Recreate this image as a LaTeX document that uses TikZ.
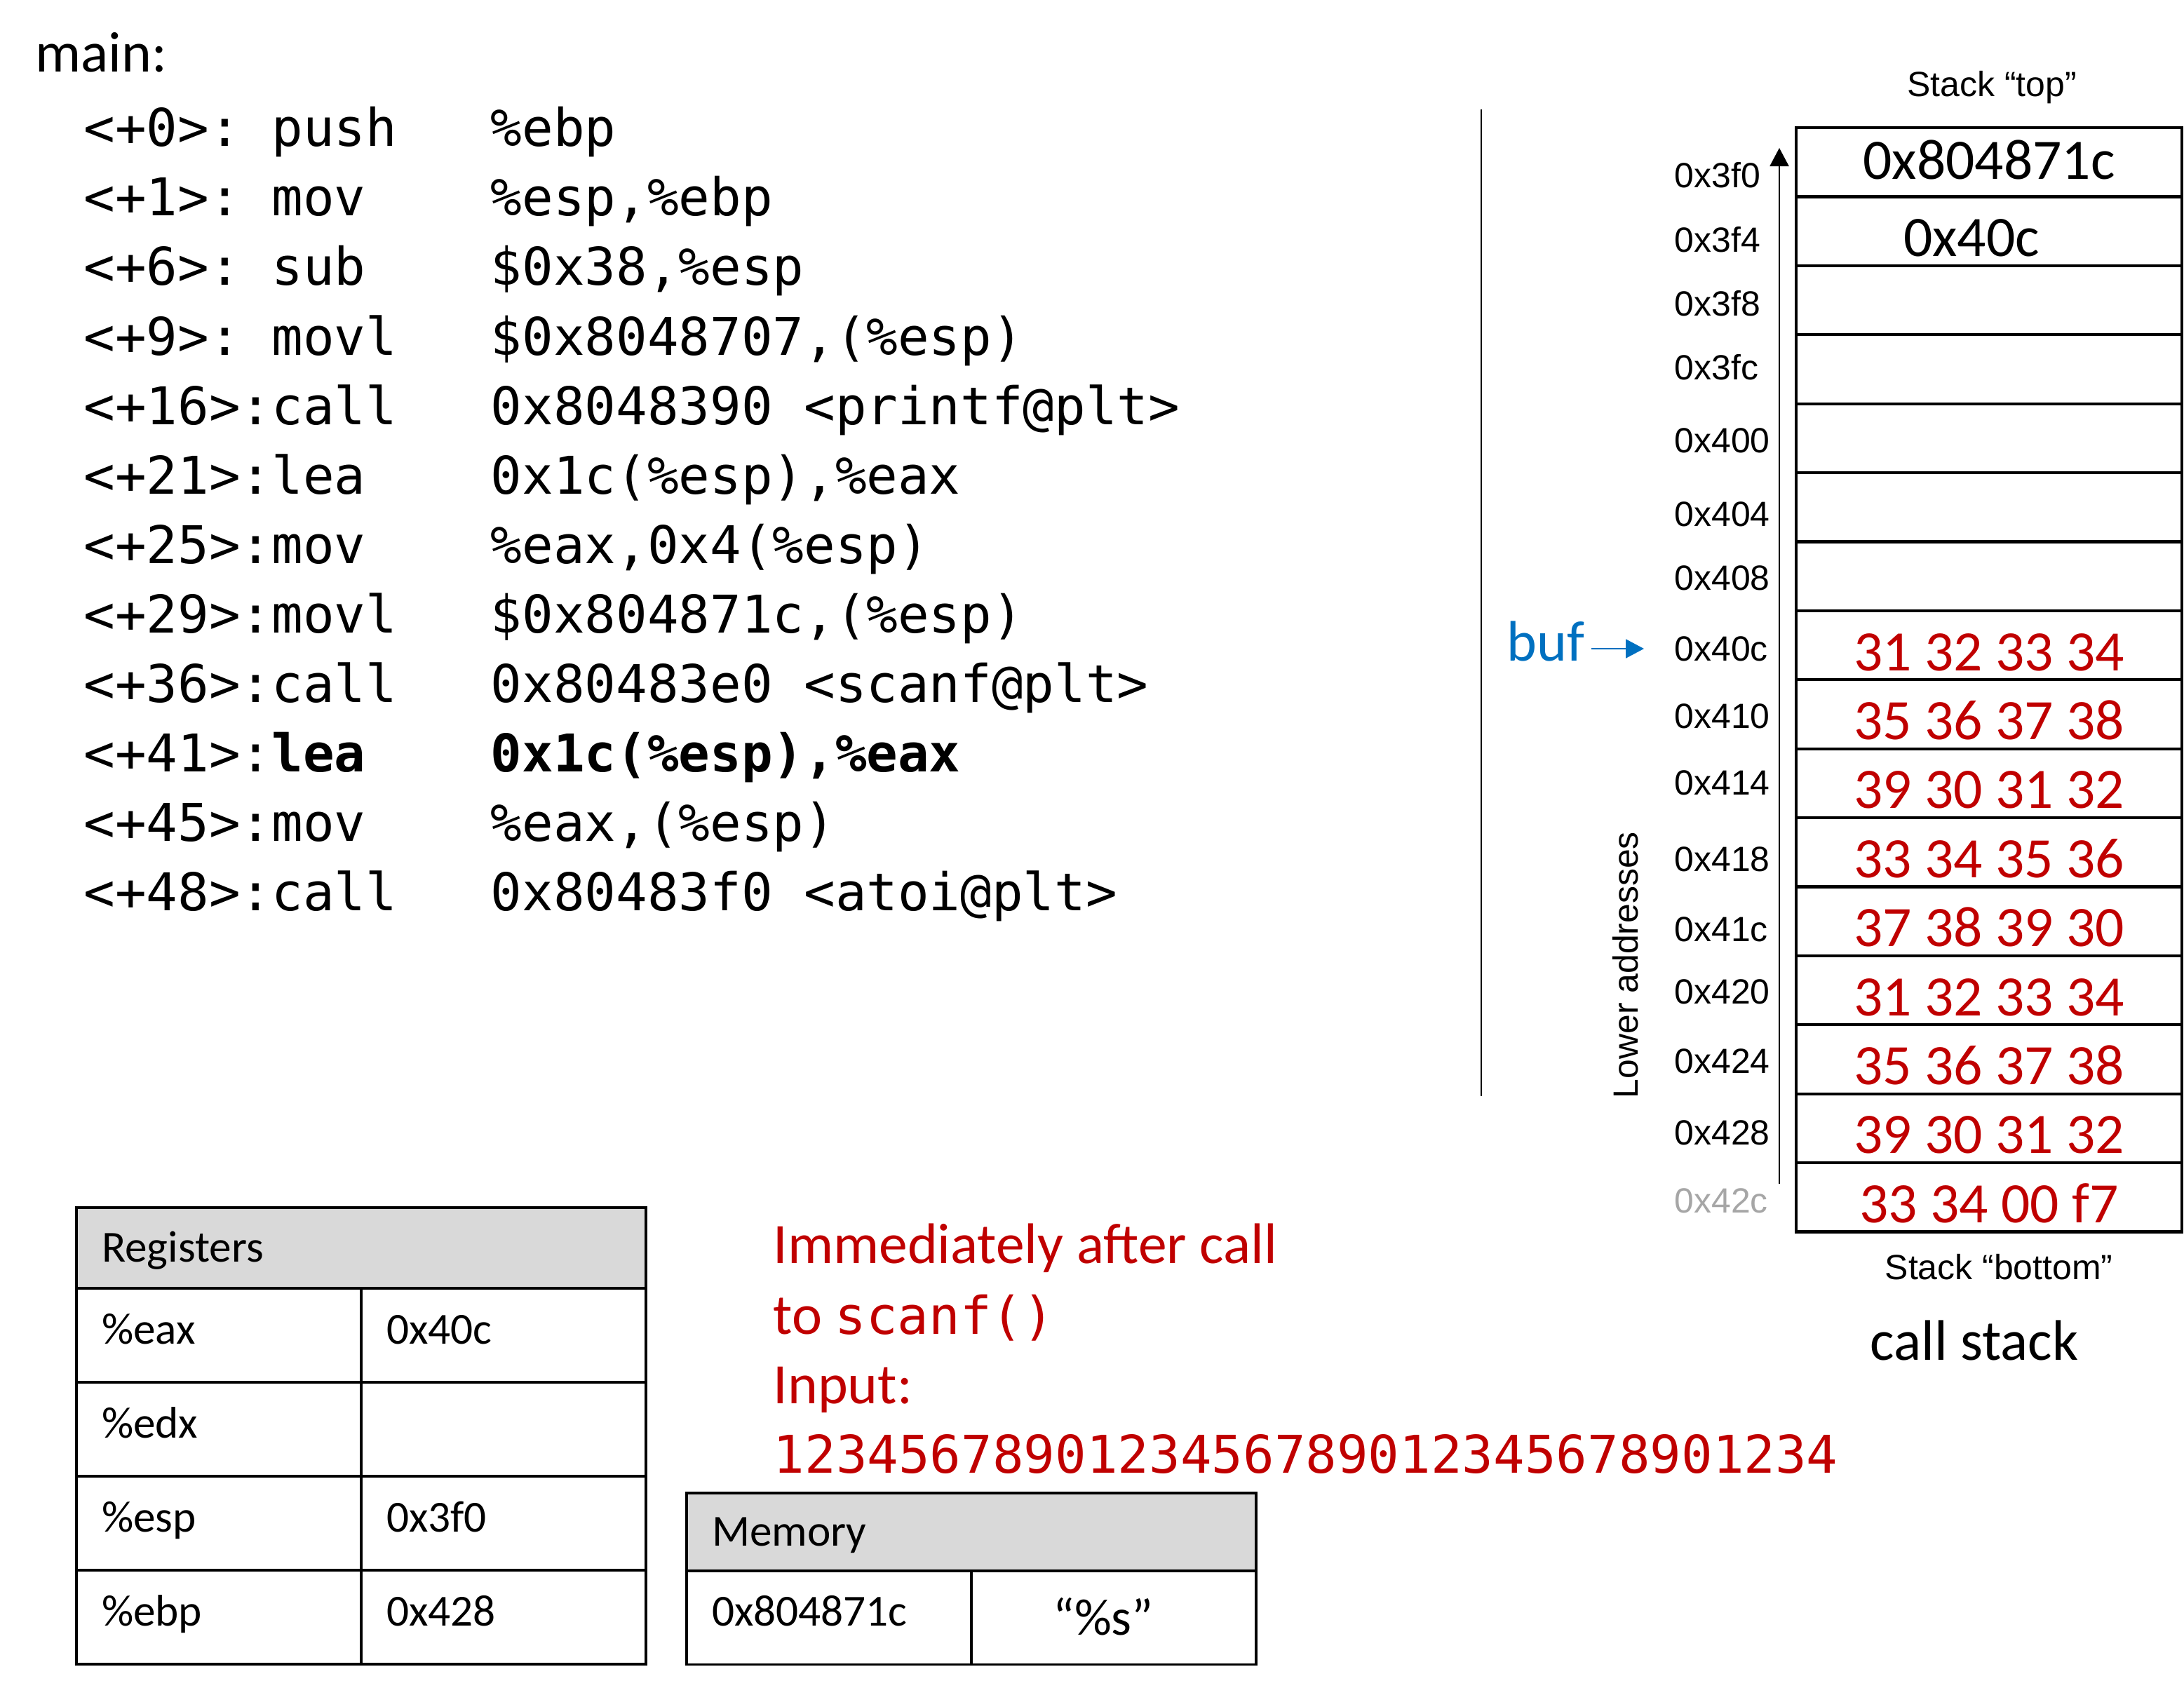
\documentclass[tikz,border=0pt]{standalone}
\usepackage{fontspec}
\setmainfont{Carlito}
\setmonofont{DejaVu Sans Mono}
\newfontfamily\arialfont{Liberation Sans}
\usetikzlibrary{matrix,arrows.meta}

\definecolor{hexred}{HTML}{C00000}
\definecolor{bufblue}{HTML}{0070C0}
\definecolor{addrgray}{HTML}{A6A6A6}
\definecolor{headgray}{HTML}{D9D9D9}

\newcommand{\bigf}{\fontsize{23.2}{28}\selectfont}
\newcommand{\codef}{\ttfamily\fontsize{21.1}{25}\selectfont}
\newcommand{\labf}{\arialfont\fontsize{14.2}{17}\selectfont}
\newcommand{\tabf}{\fontsize{18}{22}\selectfont}

\begin{document}
\begin{tikzpicture}[y=-1cm,
  stackcell/.style={draw, line width=1.2pt, minimum width=5.5cm, minimum height=0.984cm,
    inner sep=0pt, font=\bigf, text depth=0cm},
  addr/.style={anchor=west, inner sep=0pt, font=\labf},
  ptrline/.style={line width=0.6pt, -{Triangle[length=0.26cm,width=0.27cm]}},
  thead/.style={draw, fill=headgray, line width=0.9pt, text width=7.40cm, inner xsep=0.36cm,
    inner ysep=0pt, align=left, font=\tabf, text height=0.45cm, text depth=0.05cm},
  tcell/.style={draw, line width=0.9pt, text width=3.34cm, inner xsep=0.36cm, inner ysep=0pt,
    minimum height=1.34cm, align=left, font=\tabf, text height=0.44cm, text depth=0.2cm},
  note/.style={anchor=base west, inner sep=0pt, font=\bigf, text=hexred}]
\useasboundingbox (0,0) rectangle (31.14,24.06);

% disassembly
\node[anchor=base west, font=\bigf, inner sep=0pt] (mainlbl) at (0.50,1.02) {main:};
\matrix (code) [matrix of nodes, anchor=north west, inner sep=0pt, row sep=0.291cm, column sep=0pt,
  nodes={font=\codef, inner sep=0pt, anchor=base west, text height=0.56cm, text depth=0.14cm, align=left},
  column 1/.style={nodes={text width=76.2pt}},
  column 2/.style={nodes={text width=88.9pt}}]
  at (1.19,1.52)
{
  <+0>:  & push  & \%ebp \\
  <+1>:  & mov   & \%esp,\%ebp \\
  <+6>:  & sub   & \$0x38,\%esp \\
  <+9>:  & movl  & \$0x8048707,(\%esp) \\
  <+16>: & call  & 0x8048390 <printf@plt> \\
  <+21>: & lea   & 0x1c(\%esp),\%eax \\
  <+25>: & mov   & \%eax,0x4(\%esp) \\
  <+29>: & movl  & \$0x804871c,(\%esp) \\
  <+36>: & call  & 0x80483e0 <scanf@plt> \\
  <+41>: & \textbf{lea} & \textbf{0x1c(\%esp),\%eax} \\
  <+45>: & mov   & \%eax,(\%esp) \\
  <+48>: & call  & 0x80483f0 <atoi@plt> \\
};

\draw[line width=0.6pt] (21.12,1.56) -- (21.12,15.63);

% call stack
\foreach \v/\c/\h [count=\i from 0] in {0x804871c/black/0.48, 0x40c\kern0.5cm/black/0.72,
    /black/0.72, /black/0.72, /black/0.72, /black/0.72, /black/0.72,
    31 32 33 34/hexred/0.72, 35 36 37 38/hexred/0.72, 39 30 31 32/hexred/0.72,
    33 34 35 36/hexred/0.72, 37 38 39 30/hexred/0.72, 31 32 33 34/hexred/0.72,
    35 36 37 38/hexred/0.72, 39 30 31 32/hexred/0.72, 33 34 00 f7/hexred/0.72}
  \node[stackcell, text=\c, text height=\h cm] (s\i) at (28.36, 1.82+0.984*\i+0.492) {\v};

\foreach \a/\y/\c [count=\i from 0] in {3f0/2.50/black, 3f4/3.42/black, 3f8/4.33/black,
    3fc/5.24/black, 400/6.28/black, 404/7.33/black, 408/8.24/black, 40c/9.25/black,
    410/10.21/black, 414/11.16/black, 418/12.25/black, 41c/13.25/black, 420/14.14/black,
    424/15.13/black, 428/16.15/black, 42c/17.12/addrgray}
  \node[addr, text=\c] (a\i) at (23.87,\y) {0x\a};

\coordinate (lowtip) at (25.37,16.88);
\coordinate (hightip) at (25.37,2.11);
\draw[ptrline] (lowtip) -- (hightip);
\node[font=\labf, rotate=90] (lower) at (23.18,13.76) {Lower addresses};

\node[font=\labf] (stacktop) at (28.40,1.25) {Stack “top”};
\node[font=\labf] (stackbot) at (28.50,18.07) {Stack “bottom”};
\node[font=\bigf] (callstack) at (28.15,19.11) {call stack};

\node[anchor=base west, font=\bigf, text=bufblue, inner sep=0pt] (buf) at (21.48,9.42) {buf};
\draw[ptrline, bufblue, shorten <=0.09cm, shorten >=0.43cm] (buf.east |- a7.west) -- (a7.west);

% registers
\node[thead, minimum height=1.15cm] (reghead) at (5.15,17.795) {Registers};
\foreach \r/\v [count=\i] in {\%eax/0x40c, \%edx/, \%esp/0x3f0, \%ebp/0x428} {
  \node[tcell] (reg\i) at (3.12, 17.70+1.34*\i) {\r};
  \node[tcell] (val\i) at (7.18, 17.70+1.34*\i) {\v};
}

% memory
\node[thead, minimum height=1.11cm] (memhead) at (13.85,21.845) {Memory};
\node[tcell] (maddr) at (11.82,23.065) {0x804871c};
\node[tcell, align=center, font=\fontsize{21}{25}\selectfont, text height=0.5cm, text depth=0cm]
  (mval) at (15.88,23.065) {“\%s”\kern0.3cm};

\node[note] (note1) at (11.02,18.01) {Immediately after call};
\node[note] (note2) at (11.02,19.02) {to {\codef scanf()}};
\node[note] (note3) at (11.02,20.01) {Input:};
\node[note, font=\codef] (note4) at (11.02,21.00) {1234567890123456789012345678901234};
\end{tikzpicture}
\end{document}
